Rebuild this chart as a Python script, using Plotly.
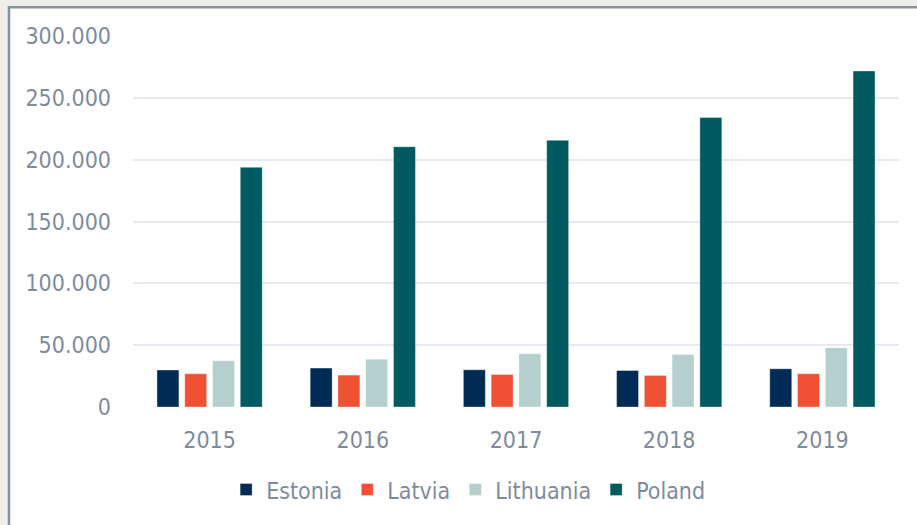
import plotly.graph_objects as go

years = ["2015", "2016", "2017", "2018", "2019"]
estonia = [29900, 31500, 30100, 29500, 30900]
latvia = [26900, 25800, 26300, 25500, 26900]
lithuania = [37400, 38700, 43000, 42500, 47900]
poland = [193800, 210400, 215600, 234100, 271700]

series = [
    ("Estonia", estonia, "#002b54"),
    ("Latvia", latvia, "#f05033"),
    ("Lithuania", lithuania, "#b4cfcd"),
    ("Poland", poland, "#005a60"),
]

font_color = "#7e8b9d"
font_family = "DejaVu Sans Condensed, DejaVu Sans, sans-serif"

fig = go.Figure()
for name, vals, color in series:
    fig.add_trace(
        go.Bar(
            x=years,
            y=vals,
            name=name,
            marker=dict(color=color, line=dict(color="rgba(255,255,255,0.35)", width=1)),
        )
    )

fig.update_layout(
    width=917,
    height=525,
    barmode="group",
    bargap=0.275,
    bargroupgap=0.21,
    separators=",.",
    paper_bgcolor="#eeede6",
    plot_bgcolor="rgba(0,0,0,0)",
    margin=dict(l=133, r=18, t=36, b=118, autoexpand=False),
    font=dict(family=font_family, size=23, color=font_color),
    xaxis=dict(
        showgrid=False,
        zeroline=False,
        showline=False,
        ticks="",
        ticklabelstandoff=17,
        tickfont=dict(size=23, color=font_color),
    ),
    yaxis=dict(
        range=[0, 300000],
        dtick=50000,
        tickformat=",d",
        showgrid=True,
        gridcolor="#e8e8f0",
        gridwidth=2,
        zeroline=False,
        showline=False,
        ticks="",
        ticklabelstandoff=21,
        tickfont=dict(size=23, color=font_color),
    ),
    legend=dict(
        orientation="h",
        x=0.4375,
        xanchor="center",
        y=-0.2226,
        yanchor="middle",
        font=dict(size=23, color=font_color),
        bgcolor="rgba(0,0,0,0)",
    ),
    shapes=[
        dict(
            type="rect",
            xref="paper",
            yref="paper",
            x0=-0.1619,
            x1=1.2,
            y0=-0.6,
            y1=1.0772,
            fillcolor="white",
            line=dict(color="#8592a3", width=2.5),
            layer="below",
        )
    ],
)

fig.write_html(
    "out.html",
    config={"displayModeBar": False},
    post_script="document.body.style.margin='0';document.body.style.background='#eeede6';",
)
